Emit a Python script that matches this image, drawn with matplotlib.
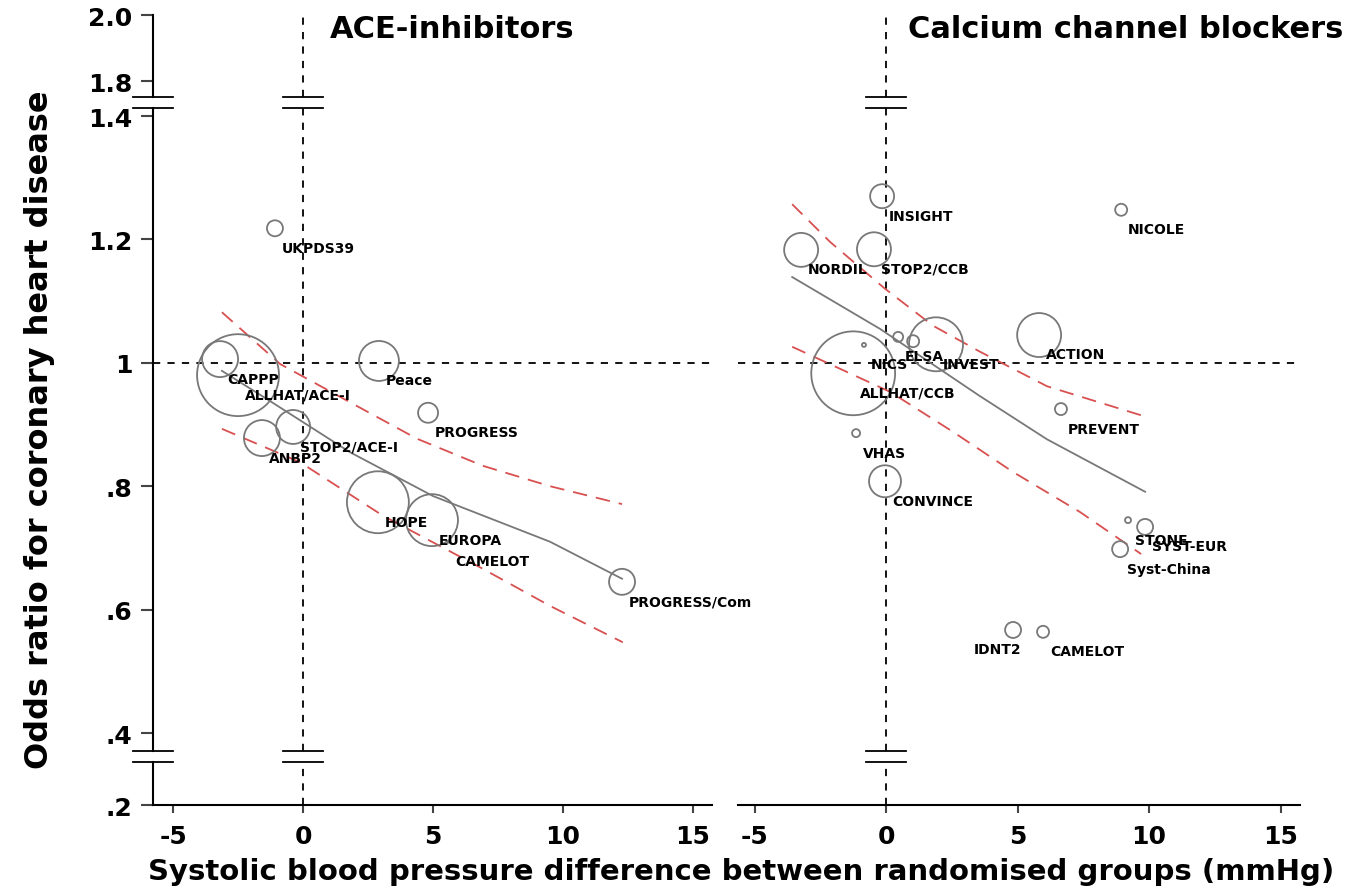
import matplotlib
matplotlib.use('Agg')
import matplotlib.pyplot as plt
import numpy as np

# ACE-inhibitor trials: SBP difference (mmHg), odds ratio, relative weight
ace_names = ['UKPDS39', 'CAPPP', 'ALLHAT/ACE-I', 'Peace', 'PROGRESS', 'STOP2/ACE-I',
             'ANBP2', 'HOPE', 'EUROPA', 'CAMELOT', 'PROGRESS/Com']
ace_sbp = [-1.08, -3.19, -2.50, 2.92, 4.81, -0.38, -1.58, 2.88, 4.96, 5.58, 12.27]
ace_or = [1.218, 1.006, 0.980, 1.003, 0.919, 0.896, 0.878, 0.774, 0.745, 0.710, 0.645]
ace_weight = [0.64, 3.24, 16.8, 4.0, 1.0, 2.89, 3.24, 9.6, 6.76, 0.01, 1.69]

# meta-regression line and 95% band, ACE panel
ace_fit_x = [-3.12, -1.38, 1.81, 5.0, 9.5, 12.27]
ace_fit_y = [0.987, 0.941, 0.855, 0.784, 0.710, 0.650]
ace_hi_x = [-3.12, -0.88, 1.81, 4.38, 6.92, 9.5, 12.27]
ace_hi_y = [1.082, 0.998, 0.936, 0.877, 0.833, 0.800, 0.771]
ace_lo_x = [-3.12, -0.12, 3.08, 6.92, 9.5, 12.3]
ace_lo_y = [0.893, 0.839, 0.752, 0.666, 0.606, 0.547]

# calcium channel blocker trials
ccb_names = ['INSIGHT', 'NORDIL', 'STOP2/CCB', 'NICOLE', 'ACTION', 'INVEST', 'ELSA', '',
             'NICS', 'ALLHAT/CCB', 'VHAS', 'CONVINCE', 'PREVENT', 'STONE', 'SYST-EUR',
             'Syst-China', 'IDNT2', 'CAMELOT']
ccb_sbp = [-0.15, -3.23, -0.46, 8.94, 5.82, 1.90, 0.46, 1.03, -0.84, -1.25, -1.14,
           -0.04, 6.65, 9.20, 9.85, 8.90, 4.83, 5.97]
ccb_or = [1.270, 1.183, 1.184, 1.248, 1.045, 1.030, 1.042, 1.035, 1.029, 0.983, 0.886,
          0.808, 0.925, 0.745, 0.734, 0.698, 0.567, 0.564]
ccb_weight = [1.44, 2.89, 2.89, 0.36, 4.84, 7.29, 0.25, 0.36, 0.04, 17.6, 0.16,
              2.56, 0.36, 0.09, 0.64, 0.64, 0.64, 0.36]

ccb_fit_x = [-3.57, -0.23, 3.57, 6.12, 9.85]
ccb_fit_y = [1.139, 1.055, 0.946, 0.876, 0.791]
ccb_hi_x = [-3.57, -2.13, -0.04, 1.79, 3.57, 6.12, 9.77]
ccb_hi_y = [1.257, 1.196, 1.120, 1.060, 1.018, 0.962, 0.914]
ccb_lo_x = [-3.57, -1.48, 0.15, 2.55, 4.83, 7.38, 9.70]
ccb_lo_y = [1.026, 0.985, 0.953, 0.888, 0.823, 0.758, 0.690]

yticks = [0.2, 0.4, 0.6, 0.8, 1.0, 1.2, 1.4, 1.8, 2.0]
ytick_labels = ['.2', '.4', '.6', '.8', '1', '1.2', '1.4', '1.8', '2.0']
xticks = [-5, 0, 5, 10, 15]

# broken y axis: compressed bottom and top segments
KNOT_V = [0.2, 0.4, 1.4, 1.8, 2.0]
KNOT_U = [0.0, 72.0, 689.0, 724.0, 790.0]
BREAKS = [(0.319, 0.35), (1.491, 1.617)]


def piecewise(x, xs, ys):
    x = np.asarray(x, dtype=float)
    flat = np.atleast_1d(x).astype(float)
    out = np.interp(flat, xs, ys)
    lo = flat < xs[0]
    hi = flat > xs[-1]
    out[lo] = ys[0] + (flat[lo] - xs[0]) * (ys[1] - ys[0]) / (xs[1] - xs[0])
    out[hi] = ys[-1] + (flat[hi] - xs[-1]) * (ys[-1] - ys[-2]) / (xs[-1] - xs[-2])
    return out.reshape(x.shape)


def fwd(v):
    return piecewise(v, KNOT_V, KNOT_U)


def inv(u):
    return piecewise(u, KNOT_U, KNOT_V)


GREY = '#787878'
RED = '#d85050'
SIZE_K = 207


def draw_panel(ax, names, sbp, odds, weight, fit, hi, lo, xlim, right_label=()):
    ax.set_yscale('function', functions=(fwd, inv))
    ax.set_ylim(0.2, 2.0)
    ax.set_xlim(*xlim)
    ax.patch.set_visible(False)

    ax.axhline(1.0, color='black', lw=1.3, ls=(0, (4, 4)), zorder=1)
    # x = 0 reference line, broken where the axis is broken
    segs = [(0.2, BREAKS[0][0]), (BREAKS[0][1], BREAKS[1][0]), (BREAKS[1][1], 2.0)]
    for a, b in segs:
        ax.plot([0, 0], [a, b], color='black', lw=1.3, ls=(0, (4, 4)), zorder=1)
    for b in BREAKS:
        for yv in b:
            ax.plot([-0.77, 0.77], [yv, yv], color='black', lw=1.3, zorder=1)

    ax.plot(hi[0], hi[1], color=RED, lw=1.3, ls=(0, (8, 5)), zorder=2)
    ax.plot(lo[0], lo[1], color=RED, lw=1.3, ls=(0, (8, 5)), zorder=2)
    ax.plot(fit[0], fit[1], color=GREY, lw=1.3, zorder=2)

    ax.scatter(sbp, odds, s=[w * SIZE_K for w in weight], facecolors='none',
               edgecolors=GREY, linewidths=1.3, zorder=3)
    for name, x, y in zip(names, sbp, odds):
        if not name:
            continue
        if name in right_label:
            ax.annotate(name, (x, y), xytext=(6, -14), textcoords='offset points',
                        ha='right', va='center', fontsize=10, fontweight='bold')
        else:
            ax.annotate(name, (x, y), xytext=(5, -14), textcoords='offset points',
                        ha='left', va='center', fontsize=10, fontweight='bold')

    for s in ['top', 'right', 'left']:
        ax.spines[s].set_visible(False)
    ax.spines['bottom'].set_linewidth(1.5)
    ax.set_xticks(xticks)
    ax.set_xticklabels([str(t) for t in xticks], fontsize=18, fontweight='bold')
    ax.tick_params(axis='x', length=6, width=1.5, color='#444444', pad=8)


fig = plt.figure(figsize=(13.49, 8.95), dpi=100)
ax1 = fig.add_axes([153 / 1349, 1 - 806 / 895, 559 / 1349, 790 / 895])
ax2 = fig.add_axes([738 / 1349, 1 - 806 / 895, 562 / 1349, 790 / 895])
ax1.set_zorder(2)

draw_panel(ax1, ace_names, ace_sbp, ace_or, ace_weight,
           (ace_fit_x, ace_fit_y), (ace_hi_x, ace_hi_y), (ace_lo_x, ace_lo_y),
           (-5.77, 15.73))
draw_panel(ax2, ccb_names, ccb_sbp, ccb_or, ccb_weight,
           (ccb_fit_x, ccb_fit_y), (ccb_hi_x, ccb_hi_y), (ccb_lo_x, ccb_lo_y),
           (-5.63, 15.74), right_label=('IDNT2',))

# left axis drawn by hand so it can carry the break marks
ytr = ax1.get_yaxis_transform()
for a, b in [(0.2, BREAKS[0][0]), (BREAKS[0][1], BREAKS[1][0]), (BREAKS[1][1], 2.0)]:
    ax1.plot([0, 0], [a, b], color='black', lw=1.5, transform=ytr, clip_on=False)
for b in BREAKS:
    for yv in b:
        ax1.plot([-0.036, 0.036], [yv, yv], color='black', lw=1.3, transform=ytr,
                 clip_on=False)
ax1.set_yticks(yticks)
ax1.set_yticklabels(ytick_labels, fontsize=18, fontweight='bold')
ax1.tick_params(axis='y', length=9, width=1.5, color='#444444', pad=6)
ax1.yaxis.set_minor_locator(matplotlib.ticker.NullLocator())
ax2.set_yticks([])
ax2.yaxis.set_minor_locator(matplotlib.ticker.NullLocator())

ax1.text(0.317, 0.9835, 'ACE-inhibitors', transform=ax1.transAxes, fontsize=22,
         fontweight='bold', ha='left', va='center')
ax2.text(0.302, 0.9835, 'Calcium channel blockers', transform=ax2.transAxes, fontsize=22,
         fontweight='bold', ha='left', va='center')

fig.text(40 / 1349, 1 - 430 / 895, 'Odds ratio for coronary heart disease', rotation=90,
         fontsize=23, fontweight='bold', ha='center', va='center')
fig.text(741 / 1349, 1 - 872 / 895,
         'Systolic blood pressure difference between randomised groups (mmHg)',
         fontsize=21, fontweight='bold', ha='center', va='center')

fig.savefig('out.png', dpi=100)
